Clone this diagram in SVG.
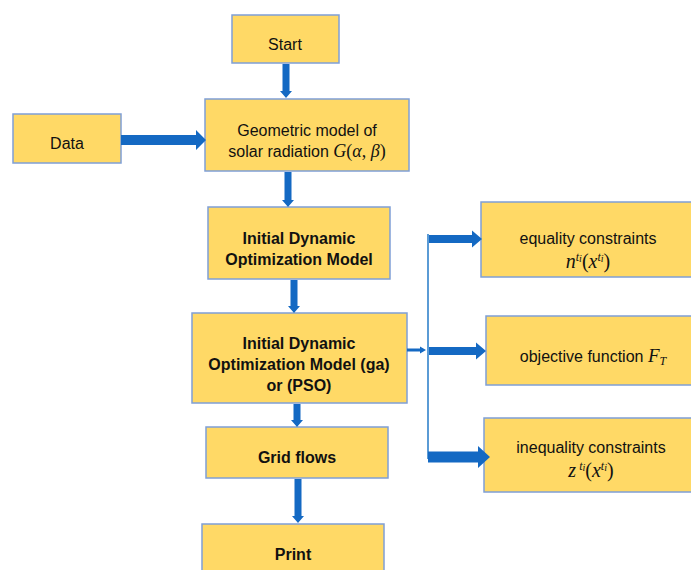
<svg xmlns="http://www.w3.org/2000/svg" width="691" height="570" viewBox="0 0 691 570">
<style>
.box{fill:#FFD966;stroke:#7F9FD6;stroke-width:1.5}
.t{font-family:"Liberation Sans",Arial,sans-serif;font-size:16px;fill:#111111;text-anchor:middle}
.b{font-weight:bold}
.m{font-family:"Liberation Serif","Times New Roman",serif;font-style:italic}
.s{font-family:"Liberation Serif","Times New Roman",serif}
.arr{fill:#1469C3}
.ln{stroke:#5B9BD5;stroke-width:2;fill:none}
</style>
<rect width="691" height="570" fill="#ffffff"/>
<g id="start"><rect class="box" x="232" y="15" width="107" height="48"/><text class="t" x="285" y="50">Start</text></g>
<g id="data"><rect class="box" x="13" y="114" width="108" height="49"/><text class="t" x="67" y="149">Data</text></g>
<g id="geo"><rect class="box" x="205" y="99" width="204" height="72"/>
<text class="t" x="307" y="136">Geometric model of</text>
<text class="t" x="307" y="157">solar radiation <tspan class="m" font-size="18">G</tspan><tspan class="s" font-size="18">(</tspan><tspan class="m" font-size="18">α</tspan><tspan class="s" font-size="18">, </tspan><tspan class="m" font-size="18">β</tspan><tspan class="s" font-size="18">)</tspan></text></g>
<g id="idom"><rect class="box" x="208" y="207" width="182" height="72"/>
<text class="t b" x="299" y="244">Initial Dynamic</text>
<text class="t b" x="299" y="265">Optimization Model</text></g>
<g id="idomga"><rect class="box" x="192" y="313" width="215" height="90"/>
<text class="t b" x="299" y="349">Initial Dynamic</text>
<text class="t b" x="299" y="370">Optimization Model (ga)</text>
<text class="t b" x="299" y="391">or (PSO)</text></g>
<g id="grid"><rect class="box" x="206" y="427" width="182" height="51"/><text class="t b" x="297" y="463">Grid flows</text></g>
<g id="print"><rect class="box" x="202" y="524" width="182" height="52"/><text class="t b" x="293" y="560">Print</text></g>
<g id="equality"><rect class="box" x="481" y="202" width="215" height="75"/>
<text class="t" x="588" y="244">equality constraints</text>
<text class="t" x="588" y="268"><tspan class="m" font-size="20">n</tspan><tspan class="m" font-size="12" dy="-7">t</tspan><tspan class="m" font-size="10" dy="1">i</tspan><tspan class="s" font-size="20" dy="6">(</tspan><tspan class="m" font-size="20">x</tspan><tspan class="m" font-size="12" dy="-7">t</tspan><tspan class="m" font-size="10" dy="1">i</tspan><tspan class="s" font-size="20" dy="6">)</tspan></text></g>
<g id="objective"><rect class="box" x="486" y="316" width="210" height="69"/>
<text class="t" x="593" y="362">objective function <tspan class="m" font-size="19">F</tspan><tspan class="m" font-size="12" dy="3">T</tspan></text></g>
<g id="inequality"><rect class="box" x="484" y="418" width="212" height="74"/>
<text class="t" x="591" y="453">inequality constraints</text>
<text class="t" x="591" y="477"><tspan class="m" font-size="20">z</tspan><tspan class="m" font-size="12" dy="-7"> t</tspan><tspan class="m" font-size="10" dy="1">i</tspan><tspan class="s" font-size="20" dy="6">(</tspan><tspan class="m" font-size="20">x</tspan><tspan class="m" font-size="12" dy="-7">t</tspan><tspan class="m" font-size="10" dy="1">i</tspan><tspan class="s" font-size="20" dy="6">)</tspan></text></g>
<g id="connectors">
<polygon class="arr" points="282.5,64 289.5,64 289.5,91 292,91 286,98 280,91 282.5,91"/>
<polygon class="arr" points="284.5,172 291.5,172 291.5,200 294,200 288,207 282,200 284.5,200"/>
<polygon class="arr" points="290.5,280 297.5,280 297.5,306 300,306 294,313 288,306 290.5,306"/>
<polygon class="arr" points="293.5,404 300.5,404 300.5,420 303,420 297,427 291,420 293.5,420"/>
<polygon class="arr" points="294.5,479 301.5,479 301.5,516 304,516 298,523 292,516 294.5,516"/>
<polygon class="arr" points="121,135 196,135 196,130 206,140 196,150 196,145 121,145"/>
<polygon class="arr" points="407,348.5 420,348.5 420,346.5 426,350 420,353.5 420,351.5 407,351.5"/>
<line class="ln" x1="428" y1="234" x2="428" y2="459"/>
<polygon class="arr" points="429,235 472,235 472,230.5 482,239 472,247.5 472,243 429,243"/>
<polygon class="arr" points="429,347 476,347 476,342.5 486,351 476,359.5 476,355 429,355"/>
<polygon class="arr" points="428,451.5 478,451.5 478,446 490,457 478,468 478,462.5 428,462.5"/>
</g>
</svg>
